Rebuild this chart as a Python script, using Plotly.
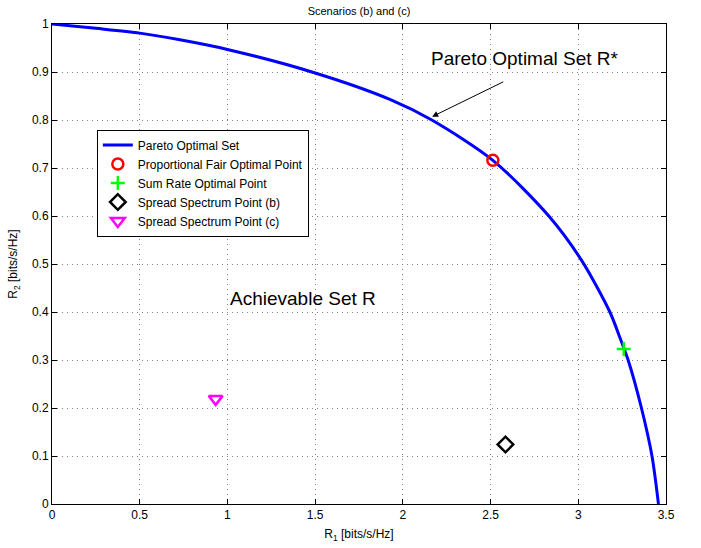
import plotly.graph_objects as go

# Pareto boundary
pareto_r1 = [0, 0.25, 0.5, 0.729, 1.0, 1.5, 1.926, 2.165, 2.513, 2.832, 3.018, 3.18, 3.242, 3.284, 3.36, 3.42, 3.457]
pareto_r2 = [1.0, 0.991, 0.981, 0.967, 0.947, 0.898, 0.843, 0.800, 0.716, 0.6, 0.508, 0.4, 0.342, 0.3, 0.2, 0.1, 0.0]

pf_point = (2.513, 0.716)
sr_point = (3.259, 0.323)
ss_b_point = (2.585, 0.124)
ss_c_point = (0.933, 0.219)

x_ticks = [0, 0.5, 1, 1.5, 2, 2.5, 3, 3.5]
y_ticks = [0, 0.1, 0.2, 0.3, 0.4, 0.5, 0.6, 0.7, 0.8, 0.9, 1]

FONT = "Liberation Sans, Arial, Helvetica, sans-serif"

fig = go.Figure()
fig.add_trace(go.Scatter(x=pareto_r1, y=pareto_r2, mode="lines", name="Pareto Optimal Set",
                         line=dict(color="#0000ff", width=3, shape="spline", smoothing=0.8)))
fig.add_trace(go.Scatter(x=[pf_point[0]], y=[pf_point[1]], mode="markers", name="Proportional Fair Optimal Point",
                         marker=dict(symbol="circle-open", size=11, color="#ff0000", line=dict(width=2.5, color="#ff0000"))))
fig.add_trace(go.Scatter(x=[sr_point[0]], y=[sr_point[1]], mode="markers", name="Sum Rate Optimal Point",
                         marker=dict(symbol="cross-thin", size=10, color="#00ff00", line=dict(width=2.5, color="#00ff00"))))
fig.add_trace(go.Scatter(x=[ss_b_point[0]], y=[ss_b_point[1]], mode="markers", name="Spread Spectrum Point (b)",
                         marker=dict(symbol="diamond-open", size=12, color="#000000", line=dict(width=2.5, color="#000000"))))
fig.add_trace(go.Scatter(x=[ss_c_point[0]], y=[ss_c_point[1]], mode="markers", name="Spread Spectrum Point (c)",
                         marker=dict(symbol="triangle-down-open", size=12, color="#ff00ff", line=dict(width=2.5, color="#ff00ff"))))

axis_common = dict(showline=True, linecolor="black", linewidth=1, mirror="ticks",
                   ticks="inside", ticklen=5, tickcolor="black", automargin=False,
                   showgrid=True, gridcolor="#808080", griddash="1px,4px", gridwidth=1,
                   zeroline=False, tickfont=dict(size=12, color="black", family=FONT))

fig.update_xaxes(range=[0, 3.5], tickvals=x_ticks, ticktext=[f"{v:g}" for v in x_ticks],
                 title=dict(text="R<sub>1</sub> [bits/s/Hz]", font=dict(size=12, family=FONT, color="black"), standoff=8),
                 **axis_common)
fig.update_yaxes(range=[0, 1], tickvals=y_ticks, ticktext=[f"{v:g}" for v in y_ticks],
                 title=dict(text="R<sub>2</sub> [bits/s/Hz]", font=dict(size=12, family=FONT, color="black"), standoff=11),
                 **axis_common)

fig.add_annotation(x=2.167, y=0.807, ax=2.581, ay=0.881, axref="x", ayref="y", xref="x", yref="y",
                   text="", showarrow=True, arrowhead=2, arrowsize=1.2, arrowwidth=1, arrowcolor="black")
fig.add_annotation(x=(525 - 52) / 175.5, y=(504 - 58) / 480, xref="x", yref="y", text="Pareto Optimal Set R*",
                   showarrow=False, font=dict(size=19, family=FONT, color="black"))
fig.add_annotation(x=(303 - 52) / 175.5, y=(504 - 298) / 480, xref="x", yref="y", text="Achievable Set R",
                   showarrow=False, font=dict(size=19, family=FONT, color="black"))

fig.update_layout(
    width=701, height=548,
    margin=dict(l=52, r=35, t=24, b=44),
    paper_bgcolor="white", plot_bgcolor="white",
    title=dict(text="Scenarios (b) and (c)", x=0.5, xref="paper", y=1 - 11 / 548, yref="container",
               yanchor="middle", font=dict(size=11, family=FONT, color="black")),
    font=dict(family=FONT, color="black"),
    legend=dict(x=0.073, y=(504 - 183) / 480, xanchor="left", yanchor="middle", bgcolor="white",
                bordercolor="black", borderwidth=1, font=dict(size=12, family=FONT, color="black"),
                tracegroupgap=0, itemwidth=30),
    showlegend=True,
)

fig.write_html("out.html", config={"displayModeBar": False},
               post_script="document.body.style.margin='0';")
